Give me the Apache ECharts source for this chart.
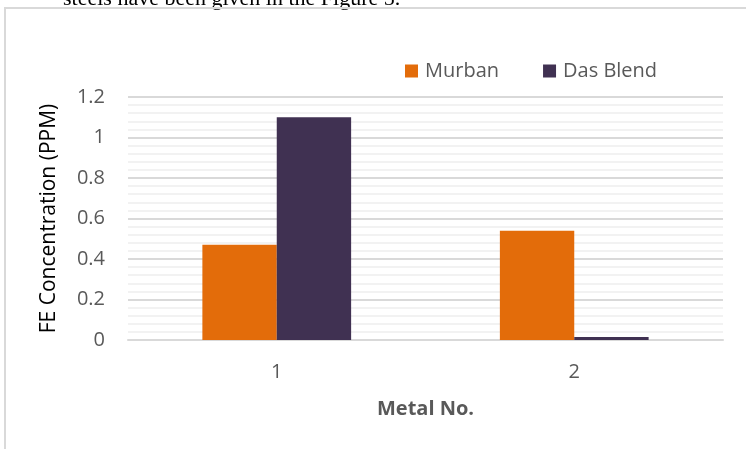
<!DOCTYPE html>
<html>
<head>
<meta charset="utf-8">
<script src="https://cdn.jsdelivr.net/npm/echarts@6/dist/echarts.min.js"></script>
<style>
  html, body { margin: 0; padding: 0; background: #fff; }
  #chart { width: 746px; height: 449px; }
</style>
</head>
<body>
<div id="chart"></div>
<script>
// Fe concentration per metal sample for two crude blends
const categories = ['1', '2'];
const seriesNames = ['Murban', 'Das Blend'];
const murban = [0.47, 0.54];
const dasBlend = [1.1, 0.015];
const yTicks = [0, 0.2, 0.4, 0.6, 0.8, 1, 1.2];

const colors = ['#E36C0A', '#403152'];
const font = '"Open Sans", sans-serif';

const chart = echarts.init(document.getElementById('chart'), null, { renderer: 'canvas' });

chart.setOption({
  animation: false,
  backgroundColor: '#ffffff',
  graphic: [
    {
      type: 'text',
      x: 63,
      y: -1,
      style: {
        text: 'steels have been given in the Figure 5.',
        fontFamily: '"Liberation Serif", serif',
        fontSize: 22,
        fill: '#000',
        verticalAlign: 'middle'
      },
      z: 0
    },
    {
      type: 'rect',
      shape: { x: 5, y: 8, width: 800, height: 500 },
      style: { fill: 'none', stroke: '#d9d9d9', lineWidth: 2 },
      z: 0
    }
  ],
  legend: {
    data: seriesNames,
    left: 400,
    top: 56,
    itemWidth: 13,
    itemHeight: 13,
    itemGap: 44,
    icon: 'rect',
    textStyle: { fontFamily: font, fontSize: 20, color: '#595959', padding: [0, 0, 0, 2] }
  },
  grid: { left: 128, right: 23, top: 97, bottom: 109, containLabel: false },
  xAxis: {
    type: 'category',
    data: categories,
    name: 'Metal No.',
    nameLocation: 'middle',
    nameGap: 59,
    nameTextStyle: { fontFamily: font, fontSize: 20, fontWeight: 'bold', color: '#595959' },
    axisLine: { show: true, lineStyle: { color: '#d9d9d9', width: 2 } },
    axisTick: { show: false },
    axisLabel: { fontFamily: font, fontSize: 20, color: '#595959', margin: 22 }
  },
  yAxis: {
    type: 'value',
    min: 0,
    max: 1.2,
    interval: 0.2,
    name: 'FE Concentration (PPM)',
    nameLocation: 'middle',
    nameGap: 68,
    nameTextStyle: { fontFamily: font, fontSize: 21, color: '#000' },
    axisLine: { show: false },
    axisTick: { show: false },
    axisLabel: {
      fontFamily: font, fontSize: 20, color: '#595959', margin: 23,
      formatter: v => {
        const t = yTicks.find(x => Math.abs(x - v) < 1e-9);
        return String(t !== undefined ? t : v);
      }
    },
    splitLine: { show: true, lineStyle: { color: '#d9d9d9', width: 2 } },
    minorTick: { show: false, splitNumber: 5 },
    minorSplitLine: { show: true, lineStyle: { color: '#f2f2f2', width: 2 } }
  },
  series: [
    {
      name: seriesNames[0],
      type: 'bar',
      data: murban,
      itemStyle: { color: colors[0] },
      barGap: '0%',
      barCategoryGap: '50%'
    },
    {
      name: seriesNames[1],
      type: 'bar',
      data: dasBlend,
      itemStyle: { color: colors[1] },
      barGap: '0%',
      barCategoryGap: '50%'
    }
  ]
});
</script>
</body>
</html>
